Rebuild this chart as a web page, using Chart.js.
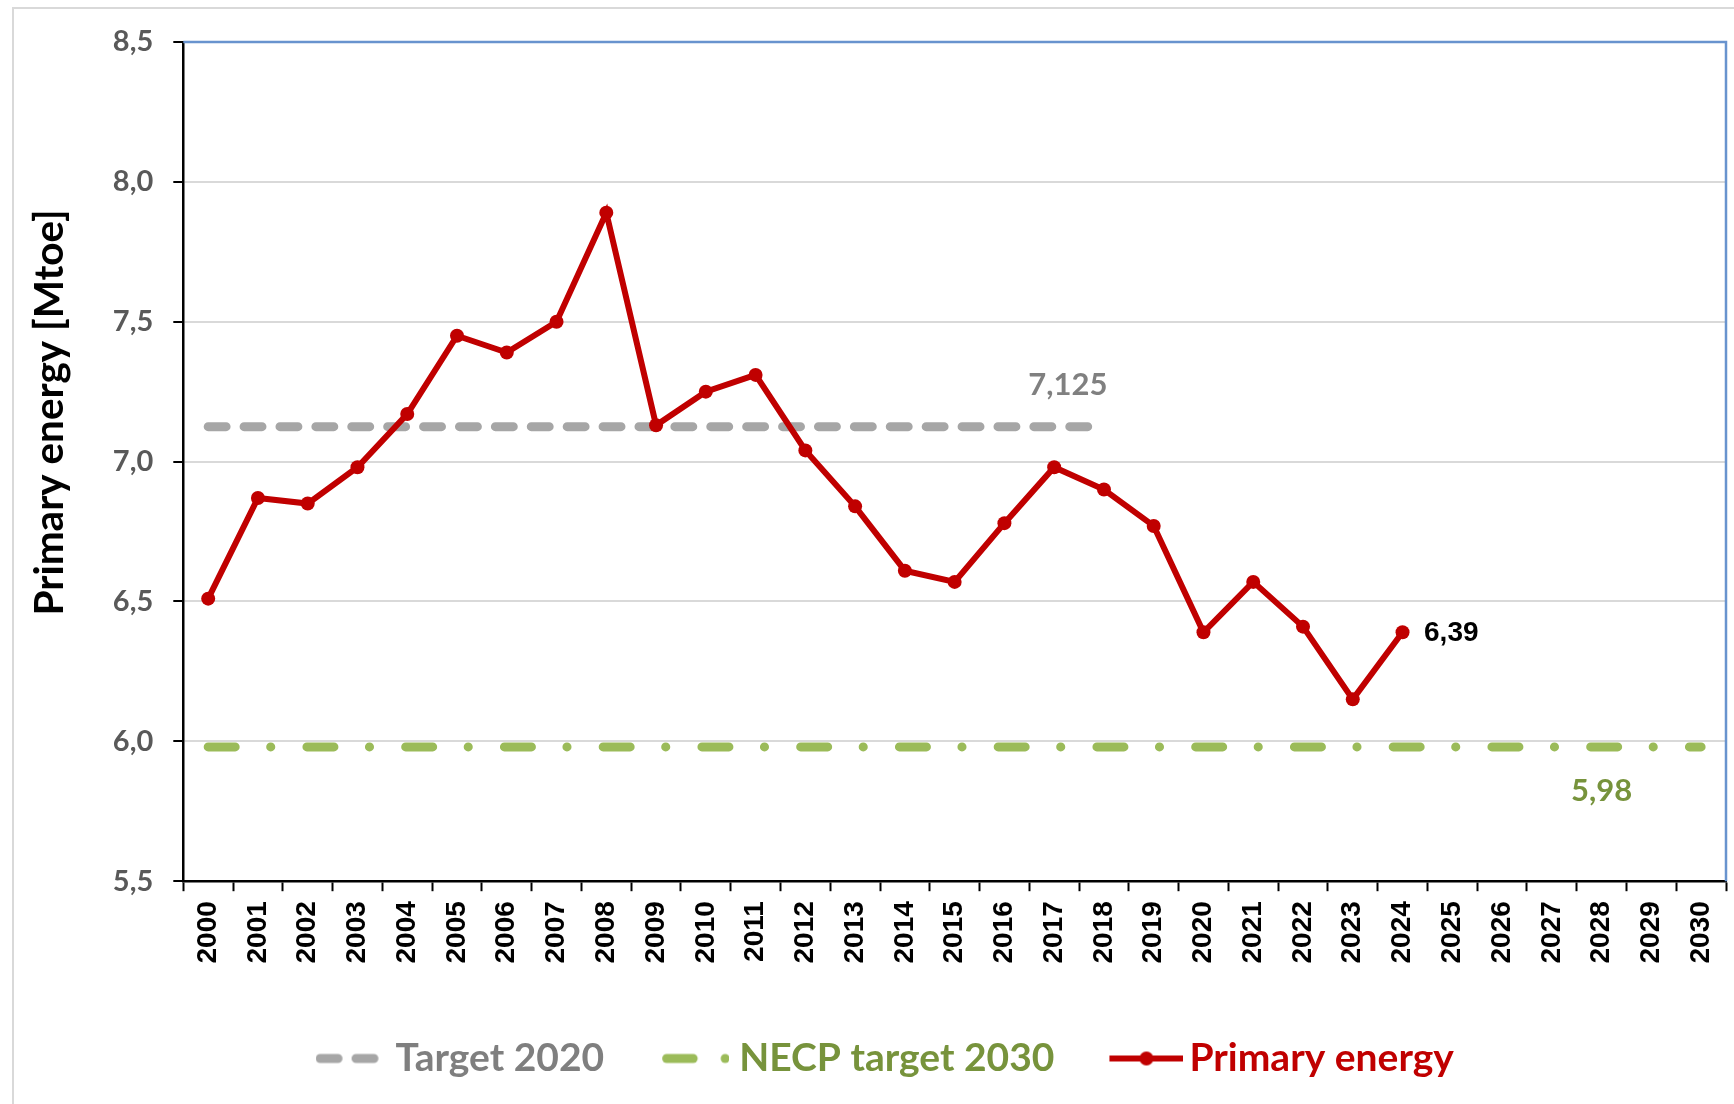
<!DOCTYPE html>
<html>
<head>
<meta charset="utf-8">
<title>Primary energy</title>
<script src="https://cdn.jsdelivr.net/npm/chart.js@4.4.1/dist/chart.umd.min.js"></script>
<style>
  html, body { margin: 0; padding: 0; background: #fff; overflow: hidden; }
  #wrap { position: relative; width: 1734px; height: 1104px; }
  #frame { position: absolute; left: 12px; top: 7px; width: 1800px; height: 1200px; border: 2.5px solid #D9D9D9; }
  canvas { position: absolute; left: 0; top: 0; }
</style>
</head>
<body>
<div id="wrap">
  <div id="frame"></div>
  <canvas id="chart" width="1734" height="1104"></canvas>
</div>
<script>
// data
const years = ['2000', '2001', '2002', '2003', '2004', '2005', '2006', '2007', '2008', '2009',
  '2010', '2011', '2012', '2013', '2014', '2015', '2016', '2017', '2018', '2019',
  '2020', '2021', '2022', '2023', '2024', '2025', '2026', '2027', '2028', '2029', '2030'];

const target2020 = [7.125, 7.125, 7.125, 7.125, 7.125, 7.125, 7.125, 7.125, 7.125, 7.125,
  7.125, 7.125, 7.125, 7.125, 7.125, 7.125, 7.125, 7.125, 7.125, null,
  null, null, null, null, null, null, null, null, null, null, null];

const necp2030 = [5.98, 5.98, 5.98, 5.98, 5.98, 5.98, 5.98, 5.98, 5.98, 5.98,
  5.98, 5.98, 5.98, 5.98, 5.98, 5.98, 5.98, 5.98, 5.98, 5.98,
  5.98, 5.98, 5.98, 5.98, 5.98, 5.98, 5.98, 5.98, 5.98, 5.98, 5.98];

const primaryEnergy = [6.51, 6.87, 6.85, 6.98, 7.17, 7.45, 7.39, 7.50, 7.89, 7.13,
  7.25, 7.31, 7.04, 6.84, 6.61, 6.57, 6.78, 6.98, 6.90, 6.77,
  6.39, 6.57, 6.41, 6.15, 6.39, null, null, null, null, null, null];

const seriesNames = ['Target 2020', 'NECP target 2030', 'Primary energy'];
const yTicks = [5.5, 6.0, 6.5, 7.0, 7.5, 8.0, 8.5];

const GRAY = '#A6A6A6';
const GREEN = '#9BBB59';
const RED = '#C00000';
const legendText = ['#7F7F7F', '#77933C', RED];

// canvas is centred on the legend box, so the sample sits at offset x0
function symbol(width, draw) {
  const c = document.createElement('canvas');
  c.width = width;
  c.height = 18;
  draw(c.getContext('2d'));
  return c;
}

const legendSymbols = [
  symbol(65, g => {
    g.strokeStyle = GRAY; g.lineWidth = 9; g.lineCap = 'round';
    g.setLineDash([17.9, 18]);
    g.beginPath(); g.moveTo(4.5, 9); g.lineTo(58.5, 9); g.stroke();
  }),
  symbol(75, g => {
    const x0 = 8;
    g.strokeStyle = GREEN; g.lineWidth = 9; g.lineCap = 'round';
    g.beginPath(); g.moveTo(x0 + 4.5, 9); g.lineTo(x0 + 31, 9); g.stroke();
    g.fillStyle = GREEN;
    g.beginPath(); g.arc(x0 + 63, 9, 4.5, 0, Math.PI * 2); g.fill();
  }),
  symbol(83, g => {
    const x0 = 9;
    g.strokeStyle = RED; g.lineWidth = 6;
    g.beginPath(); g.moveTo(x0, 9); g.lineTo(x0 + 74, 9); g.stroke();
    g.fillStyle = RED;
    g.beginPath(); g.arc(x0 + 37, 9, 7, 0, Math.PI * 2); g.fill();
  })
];

const fmt = v => String(v).replace('.', ',');

// value labels: 7,125 / 5,98 / 6,39
const labelSpecs = [
  { dataset: 0, index: 18, dx: -36, dy: -42, align: 'center', color: '#808080', font: 'bold 31px Lato' },
  { dataset: 1, index: 28, dx: 0, dy: 44, align: 'center', color: '#77933C', font: 'bold 31px Lato' },
  { dataset: 2, index: 24, dx: 21.5, dy: 1, align: 'left', color: '#000', font: 'bold 28px "Liberation Sans"' }
];

const valueLabels = {
  id: 'valueLabels',
  afterDatasetsDraw(chart) {
    const ctx = chart.ctx;
    labelSpecs.forEach(s => {
      const pt = chart.getDatasetMeta(s.dataset).data[s.index];
      const v = chart.data.datasets[s.dataset].data[s.index];
      ctx.save();
      ctx.font = s.font;
      ctx.fillStyle = s.color;
      ctx.textAlign = s.align;
      ctx.textBaseline = 'middle';
      ctx.fillText(fmt(v), pt.x + s.dx, pt.y + s.dy);
      ctx.restore();
    });
  }
};

// blue top and right edges of the plot area
const plotEdge = {
  id: 'plotEdge',
  beforeDatasetsDraw(chart) {
    const { ctx, chartArea: a } = chart;
    ctx.save();
    ctx.strokeStyle = '#6893CE';
    ctx.lineWidth = 2.5;
    ctx.beginPath();
    ctx.moveTo(a.left, a.top);
    ctx.lineTo(a.right, a.top);
    ctx.lineTo(a.right, a.bottom);
    ctx.stroke();
    ctx.restore();
  }
};

function draw() {
  new Chart(document.getElementById('chart'), {
    type: 'line',
    data: {
      labels: years,
      datasets: [
        {
          label: seriesNames[0],
          data: target2020,
          borderColor: GRAY,
          borderWidth: 9,
          borderDash: [17.9, 18],
          borderCapStyle: 'round',
          pointRadius: 0,
          order: 2
        },
        {
          label: seriesNames[1],
          data: necp2030,
          borderColor: GREEN,
          borderWidth: 9,
          borderDash: [27, 35.5, 0.1, 36.15],
          borderCapStyle: 'round',
          pointRadius: 0,
          order: 3
        },
        {
          label: seriesNames[2],
          data: primaryEnergy,
          borderColor: RED,
          backgroundColor: RED,
          borderWidth: 6,
          pointRadius: 7,
          pointBackgroundColor: RED,
          pointBorderWidth: 0,
          spanGaps: false,
          order: 1
        }
      ]
    },
    options: {
      responsive: false,
      animation: false,
      layout: { padding: { left: 48, top: 42, right: 8, bottom: 16 } },
      scales: {
        x: {
          offset: true,
          grid: { offset: true, drawOnChartArea: false, tickLength: 10, tickColor: '#000', tickWidth: 2 },
          border: { color: '#000', width: 2.5 },
          ticks: {
            autoSkip: false, minRotation: 90, maxRotation: 90, padding: 10, color: '#000',
            font: { family: '"Liberation Sans", Arial, sans-serif', size: 28, weight: 'bold' }
          },
          afterFit(scale) {
            scale.height = 98.3;
            scale.paddingLeft = 0;
            scale.paddingRight = 0;
          }
        },
        y: {
          min: 5.5,
          max: 8.5,
          afterBuildTicks(scale) { scale.ticks = yTicks.map(v => ({ value: v })); },
          grid: { color: '#D9D9D9', lineWidth: 2, tickLength: 10, tickColor: '#000', tickWidth: 2 },
          border: { color: '#000', width: 2.5 },
          ticks: {
            padding: 20, color: '#595959',
            font: { family: 'Lato, sans-serif', size: 29, weight: 'bold' },
            callback: v => v.toFixed(1).replace('.', ',')
          },
          title: {
            display: true,
            text: '\u00A0'.repeat(10) + 'Primary energy [Mtoe]',
            color: '#000',
            padding: { top: -22, bottom: 0 },
            font: { family: 'Lato, sans-serif', size: 40.5, weight: 'bold' }
          },
          afterFit(scale) { scale.width = 135.3; }
        }
      },
      plugins: {
        tooltip: { enabled: false },
        legend: {
          position: 'bottom',
          labels: {
            usePointStyle: true,
            pointStyleWidth: 56,
            padding: 59.5,
            font: { family: 'Lato, sans-serif', size: 39, weight: 'bold' },
            generateLabels: chart => chart.data.datasets.map((ds, i) => ({
              text: ds.label,
              pointStyle: legendSymbols[i],
              fontColor: legendText[i],
              fillStyle: 'transparent',
              strokeStyle: 'transparent',
              lineWidth: 0,
              hidden: false,
              datasetIndex: i
            }))
          }
        }
      }
    },
    plugins: [plotEdge, valueLabels]
  });
}

Promise.all([
  document.fonts.load('bold 30px Lato'),
  document.fonts.load('bold 28px "Liberation Sans"')
]).then(draw, draw);
</script>
</body>
</html>
